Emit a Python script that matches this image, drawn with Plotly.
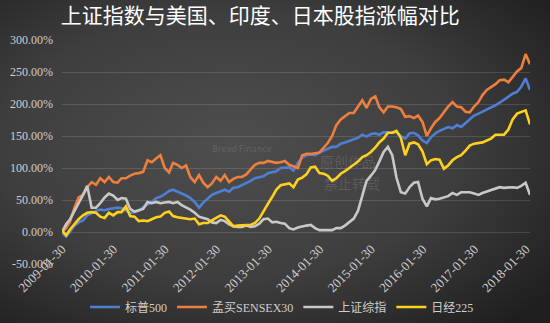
import base64
import pandas as pd
import plotly.graph_objects as go

# ---------------- data (monthly, % change since 2009-01-30) ----------------
START_DATE = "2009-01-30"
N_MONTHS = 110
DATES = pd.date_range(start=START_DATE, periods=N_MONTHS, freq=pd.DateOffset(months=1))

SP500 = [-1, -7, 0, 10, 15, 18, 26, 30, 33, 35, 34, 36,
         37, 38, 37, 33, 30, 31, 33, 39, 43, 47, 53, 55,
         59, 64, 66, 63, 61, 57, 53, 47, 38, 46, 52, 58,
         61, 64, 66, 63, 69, 70, 73, 76, 80, 84, 86, 87,
         92, 93, 95, 100, 100, 101, 96, 108, 116, 120, 121, 120,
         124, 127, 129, 133, 133, 138, 140, 143, 145, 147, 152, 149,
         153, 154, 152, 156, 155, 155, 156, 150, 146, 154, 155, 151,
         143, 139, 148, 154, 158, 161, 164, 162, 167, 164, 170, 176,
         182, 185, 188, 191, 194, 198, 202, 207, 212, 216, 219, 227,
         240, 222]

SENSEX = [0, 6, 16, 38, 54, 58, 70, 78, 74, 84, 78, 86,
          78, 77, 84, 84, 88, 91, 92, 94, 112, 109, 115, 120,
          100, 93, 108, 105, 100, 104, 86, 78, 89, 77, 70, 76,
          86, 80, 89, 78, 83, 86, 86, 90, 98, 105, 108, 108,
          111, 110, 108, 109, 111, 105, 103, 100, 120, 122, 122, 123,
          124, 132, 139, 150, 167, 176, 181, 186, 186, 195, 206, 194,
          208, 212, 195, 187, 196, 196, 195, 192, 180, 181, 178, 182,
          172, 150, 162, 172, 178, 187, 196, 203, 196, 195, 188, 187,
          196, 203, 214, 222, 226, 231, 237, 238, 234, 242, 251, 256,
          278, 262]

SHANGHAI = [0, 12, 20, 32, 45, 58, 72, 38, 38, 45, 54, 60,
            57, 50, 53, 52, 36, 32, 34, 36, 47, 45, 47, 45,
            46, 47, 45, 47, 42, 39, 35, 30, 24, 22, 20, 15,
            14, 19, 17, 12, 9, 8, 8, 10, 8, 9, 13, 20,
            21, 15, 16, 14, 13, 6, 4, 7, 9, 10, 11, 6,
            3, 3, 4, 3, 6, 6, 10, 15, 21, 33, 58, 80,
            88, 97, 110, 125, 133, 120, 85, 62, 60, 70, 77, 78,
            52, 40, 53, 51, 52, 54, 56, 61, 58, 62, 62, 62,
            60, 58, 61, 63, 65, 68, 70, 69, 70, 70, 69, 72,
            77, 58]

NIKKEI = [3, -5, 4, 13, 20, 26, 30, 31, 30, 24, 22, 30,
          26, 31, 31, 40, 25, 24, 17, 18, 17, 20, 23, 24,
          30, 32, 25, 23, 22, 20, 20, 21, 12, 14, 14, 18,
          22, 26, 24, 16, 9, 10, 11, 11, 11, 14, 21, 33,
          44, 55, 66, 73, 74, 76, 70, 82, 85, 90, 101, 102,
          92, 91, 88, 80, 84, 91, 95, 100, 104, 110, 117, 120,
          125, 132, 140, 146, 155, 155, 158, 147, 120, 138, 140, 137,
          126, 106, 112, 114, 113, 99, 104, 112, 117, 120, 127, 135,
          138, 139, 140, 143, 146, 152, 152, 152, 160, 176, 185, 187,
          190, 168]

SERIES_NAMES = ["标普500", "孟买SENSEX30", "上证综指", "日经225"]
SERIES_VALUES = [SP500, SENSEX, SHANGHAI, NIKKEI]
SERIES_COLORS = ["#4f7fd2", "#ee7f3c", "#c8c8c8", "#ffd11c"]

TICK_LABELS = ["2009-01-30", "2010-01-30", "2011-01-30", "2012-01-30", "2013-01-30",
               "2014-01-30", "2015-01-30", "2016-01-30", "2017-01-30", "2018-01-30"]
Y_TICKS = [-50, 0, 50, 100, 150, 200, 250, 300]
Y_TICK_LABELS = ["-50.00%", "0.00%", "50.00%", "100.00%", "150.00%",
                 "200.00%", "250.00%", "300.00%"]

TITLE = "上证指数与美国、印度、日本股指涨幅对比"

# ---------------- background gradient (svg) ----------------
svg = """<svg xmlns='http://www.w3.org/2000/svg' width='550' height='323'>
<defs><radialGradient id='g' cx='0.42' cy='0.45' r='0.75'>
<stop offset='0' stop-color='#4e4e4e'/>
<stop offset='0.55' stop-color='#3e3e3e'/>
<stop offset='1' stop-color='#1e1e1e'/>
</radialGradient></defs>
<rect width='550' height='323' fill='url(#g)'/></svg>"""
bg_src = "data:image/svg+xml;base64," + base64.b64encode(svg.encode()).decode()

PLOT_H = 224
fig = go.Figure()
for name, vals, col in zip(SERIES_NAMES, SERIES_VALUES, SERIES_COLORS):
    fig.add_trace(go.Scatter(x=DATES, y=vals, name=name, mode="lines",
                             line=dict(color=col, width=2.6)))

fig.update_layout(
    width=550, height=323,
    margin=dict(l=62, r=20, t=40, b=59, autoexpand=False),
    paper_bgcolor="#3a3a3a",
    plot_bgcolor="rgba(0,0,0,0)",
    images=[dict(source=bg_src, xref="paper", yref="paper",
                 x=-62/468, y=1+40/PLOT_H, sizex=550/468, sizey=323/PLOT_H,
                 xanchor="left", yanchor="top", sizing="stretch", layer="below")],
    title=dict(text=TITLE, x=0.473, xref="container", xanchor="center",
               y=1-16/323, yref="container", yanchor="middle",
               font=dict(family="Noto Sans CJK SC", size=21, color="#ffffff")),
    showlegend=True,
    legend=dict(orientation="h", x=0.47, xanchor="center", y=-43/PLOT_H, yanchor="middle",
                font=dict(family="Liberation Serif, Noto Sans CJK SC", size=12, color="#cfcfcf"),
                itemwidth=30, bgcolor="rgba(0,0,0,0)", traceorder="normal"),
    xaxis=dict(type="date", range=["2009-01-30", "2018-02-28"],
               anchor="free", position=32/PLOT_H, automargin=False,
               tickvals=TICK_LABELS, ticktext=TICK_LABELS, tickangle=-45,
               ticklabelstandoff=6,
               showgrid=False, zeroline=False, showline=False,
               tickfont=dict(family="Liberation Serif", size=13, color="#cfcfcf")),
    yaxis=dict(range=[-50, 300], tickvals=Y_TICKS, ticktext=Y_TICK_LABELS,
               showgrid=True, gridcolor="rgba(255,255,255,0.13)", gridwidth=1,
               zeroline=False, showline=False, ticklabelstandoff=8, automargin=False,
               tickfont=dict(family="Liberation Serif", size=12, color="#cfcfcf")),
)

# faint watermark text
for txt, xx, yy, sz in [("原创作品", 348, 161, 14), ("禁止转载", 352, 195, 14),
                         ("Bread Finance", 242, 148, 9)]:
    fig.add_annotation(text=txt, xref="paper", yref="paper",
                       x=(xx-62)/468, y=(264-yy)/PLOT_H, showarrow=False,
                       font=dict(family="Noto Sans CJK SC", size=sz,
                                 color="rgba(255,255,255,0.13)"))

fig.write_html("out.html")
